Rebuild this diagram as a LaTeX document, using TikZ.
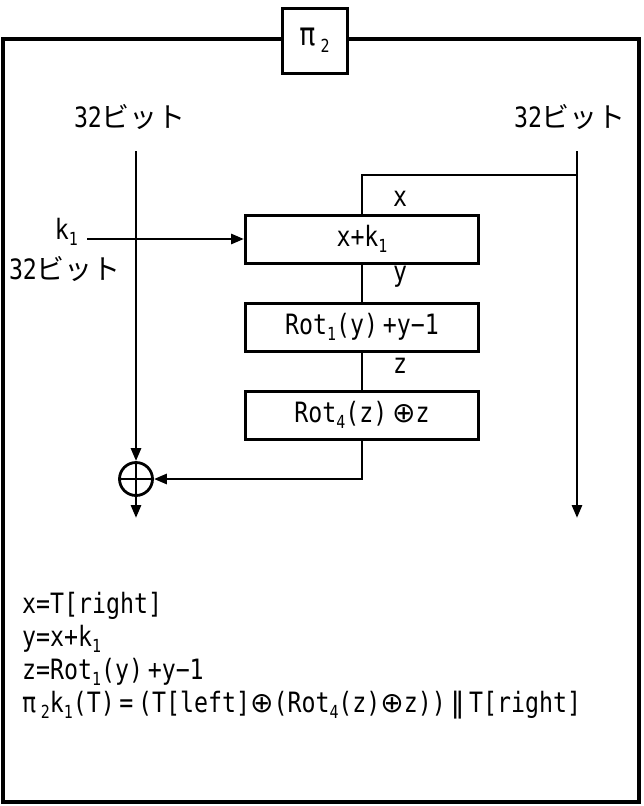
\documentclass[tikz,border=0pt]{standalone}
\usepackage{fontspec}
\setmainfont{DejaVu Sans Mono}[FakeStretch=0.83]
\newfontfamily\jpfont{Noto Sans CJK JP}
\newfontfamily\symfont{DejaVu Sans}
\usetikzlibrary{arrows.meta,positioning}
\newcommand{\sbs}[1]{\raisebox{-0.4ex}{\fontsize{18}{18}\selectfont #1}}
\newcommand{\bitlbl}{32{\jpfont ビット}}
\newcommand{\xorch}{{\symfont ⊕}}
\begin{document}
\begin{tikzpicture}[x=1pt, y=-1pt, >={Triangle[length=13pt,width=10pt]},
    txt/.style={font=\fontsize{28}{32}\selectfont, inner sep=0pt},
    func/.style={txt, draw, line width=3pt, minimum width=233pt, minimum height=48pt},
    flow/.style={line width=2.8pt}]
    \useasboundingbox (0,0) rectangle (643,806);

    % outer frame and title
    \draw[line width=3.2pt] (3,39) rectangle (639,802);
    \node[txt, draw, fill=white, line width=3pt, minimum size=65pt] (title) at (314.5,40.5) {\fontsize{32}{32}\selectfont π\,\sbs{2}};

    % 32-bit halves
    \node[txt] (inl) at (130,117) {\bitlbl};
    \node[txt] (inr) at (570,117) {\bitlbl};
    \coordinate (ltop) at (136,151);
    \coordinate (rtop) at (577,151);
    \coordinate (lend) at (136,518);
    \coordinate (rend) at (577,518);
    \coordinate (rbr) at (577,175);

    % round function
    \node[func] (add) at (362,239) {x+k\sbs{1}};
    \node[func] (rotone) at (362,327) {Rot\sbs{1}(y)\,+y−1};
    \node[func] (rotfour) at (362,415) {Rot\sbs{4}(z)\,\xorch z};
    \node[circle, draw, line width=2.8pt, minimum size=33pt, inner sep=0pt] (xor) at (136,479) {};
    \draw[flow] (xor.north) -- (xor.south) (xor.west) -- (xor.east);

    \node[txt] (lx) at (400,199) {x};
    \node[txt] (ly) at (400,277) {y};
    \node[txt] (lz) at (400,366) {z};

    % key input
    \coordinate (kin) at (87,239);
    \node[txt, anchor=east] (klbl) at (78,232) {k\sbs{1}};
    \node[txt] (kbits) at (65,269) {\bitlbl};

    % connectors
    \draw[flow] (rbr) -| (add.north);
    \draw[flow] (add.south) -- (rotone.north);
    \draw[flow] (rotone.south) -- (rotfour.north);
    \draw[flow, ->] (rotfour.south) |- (xor.east);
    \draw[flow, ->] (kin) -- (add.west);
    \draw[flow, ->] (ltop) -- (xor.north);
    \draw[flow, ->] (xor.south) -- (lend);
    \draw[flow, ->] (rtop) -- (rend);

    % definitions
    \node[txt, anchor=west] (eqx) at (22,606) {x=T[right]};
    \node[txt, anchor=west] (eqy) at (22,639) {y=x+k\sbs{1}};
    \node[txt, anchor=west] (eqz) at (22,672) {z=Rot\sbs{1}(y)\,+y−1};
    \node[txt, anchor=west] (eqpi) at (22,705) {π\,\sbs{2}k\sbs{1}(T)\,=\,(T[left]\xorch(Rot\sbs{4}(z)\xorch z))\,{\symfont ‖}\,T[right]};
\end{tikzpicture}
\end{document}
